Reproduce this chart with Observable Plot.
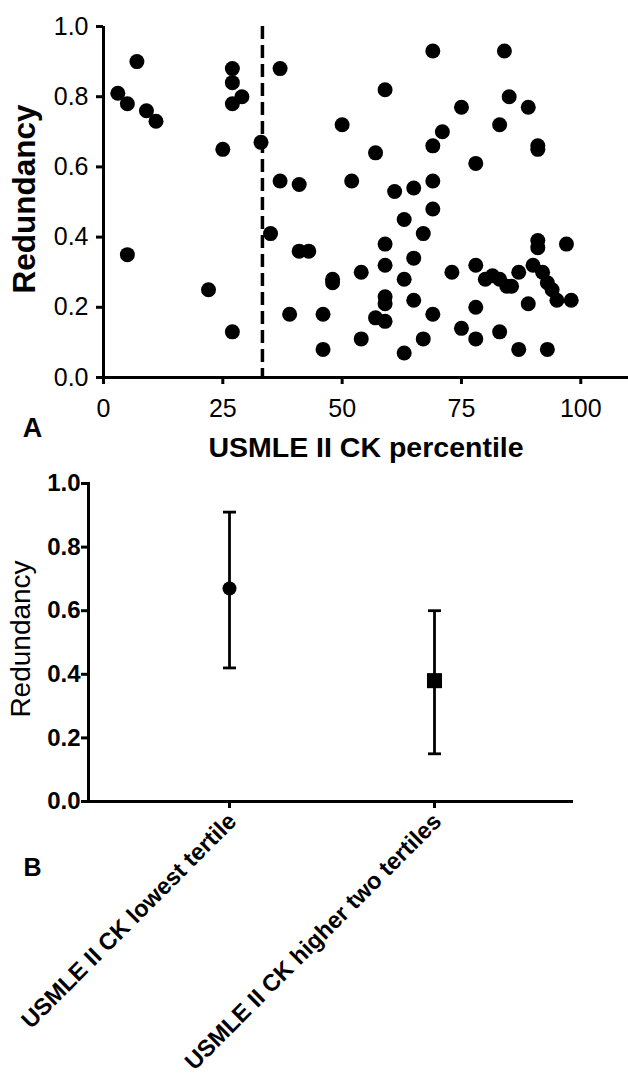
<!DOCTYPE html>
<html>
<head>
<meta charset="utf-8">
<script src="https://cdn.jsdelivr.net/npm/d3@7"></script>
<script src="https://cdn.jsdelivr.net/npm/@observablehq/plot@0.6"></script>
<style>
  body { margin: 0; background: #fff; }
  #chart svg { display: block; }
</style>
</head>
<body>
<div id="chart"></div>
<script>
// ---- Panel A data: USMLE II CK percentile vs redundancy ----
const percentile = [3,5,7,9,11, 5,22,25,27,27, 27,29,27,33,37, 37,41,35,41,43, 39,46,46,48,48, 50,52,54,54,
  69,84,59,85,75, 89,83,71,69,57, 91,91,78,69,61, 65,69,63,67,59, 91,91,97,65,59, 63,73,78,80,81.5,
  83,84.5,85.5,87,90, 92,93,94,95,98, 59,59,65,57,59, 69,78,89,67,75, 78,83,63,87,93];
const redundancy = [0.81,0.78,0.90,0.76,0.73, 0.35,0.25,0.65,0.88,0.84, 0.78,0.80,0.13,0.67,0.88, 0.56,0.55,0.41,0.36,0.36, 0.18,0.18,0.08,0.28,0.27, 0.72,0.56,0.30,0.11,
  0.93,0.93,0.82,0.80,0.77, 0.77,0.72,0.70,0.66,0.64, 0.66,0.65,0.61,0.56,0.53, 0.54,0.48,0.45,0.41,0.38, 0.39,0.37,0.38,0.34,0.32, 0.28,0.30,0.32,0.28,0.29,
  0.28,0.26,0.26,0.30,0.32, 0.30,0.27,0.25,0.22,0.22, 0.23,0.21,0.22,0.17,0.16, 0.18,0.20,0.21,0.11,0.14, 0.11,0.13,0.07,0.08,0.08];
const tertileCut = 33.3;
const xTicksA = [0, 25, 50, 75, 100];
const yTicks = [0, 0.2, 0.4, 0.6, 0.8, 1.0];
const xLabelA = "USMLE II CK percentile";
const yLabel = "Redundancy";

// ---- Panel B data: group means with error bars ----
const groups = ["USMLE II CK lowest tertile", "USMLE II CK higher two tertiles"];
const groupMean = [0.67, 0.38];
const groupLow = [0.42, 0.15];
const groupHigh = [0.91, 0.60];

const scatter = percentile.map((p, i) => ({p, r: redundancy[i]}));
const groupData = groups.map((g, i) => ({g, m: groupMean[i], lo: groupLow[i], hi: groupHigh[i]}));

const FONT = "Liberation Sans, Arial, sans-serif";
const fmt = d3.format(".1f");

const A = Plot.plot({
  width: 628, height: 470,
  marginLeft: 103, marginRight: 0, marginTop: 26, marginBottom: 93,
  style: {fontFamily: FONT, fontSize: "25px", color: "#000", background: "#fff", overflow: "visible"},
  x: {domain: [0, 110]},
  y: {domain: [0, 1]},
  marks: [
    Plot.ruleX([tertileCut], {stroke: "#000", strokeWidth: 3.5, strokeDasharray: "13,6"}),
    Plot.dot(scatter, {x: "p", y: "r", r: 7.5, fill: "#000", stroke: "none"}),
    Plot.ruleY([0], {stroke: "#000", strokeWidth: 3}),
    Plot.ruleX([0], {stroke: "#000", strokeWidth: 3}),
    Plot.axisX({ticks: xTicksA, tickSize: 7, tickPadding: 15, strokeWidth: 3, label: null, fontSize: 25}),
    Plot.axisY({ticks: yTicks, tickFormat: fmt, tickSize: 7, tickPadding: 8, strokeWidth: 3, label: null, fontSize: 25}),
    Plot.text([yLabel], {frameAnchor: "left", textAnchor: "middle", lineAnchor: "middle", rotate: -90, dx: -79, dy: -3, fontWeight: "bold", fontSize: 31.5}),
    Plot.text([xLabelA], {frameAnchor: "bottom", textAnchor: "middle", lineAnchor: "middle", dy: 70, fontWeight: "bold", fontSize: 28.5}),
    Plot.text(["A"], {frameAnchor: "bottom-left", textAnchor: "middle", lineAnchor: "middle", dx: -71, dy: 51, fontWeight: "bold", fontSize: 27})
  ]
});

const capSymbol = {
  draw(ctx, size) {
    const r = Math.sqrt(size / Math.PI);
    ctx.moveTo(-r, 0);
    ctx.lineTo(r, 0);
  }
};

const B = Plot.plot({
  width: 628, height: 614,
  marginLeft: 88, marginRight: 55, marginTop: 13, marginBottom: 283,
  style: {fontFamily: FONT, fontSize: "24px", color: "#000", background: "#fff", overflow: "visible"},
  x: {type: "point", domain: groups, padding: 0.68, align: 0.505},
  y: {domain: [0, 1]},
  marks: [
    Plot.ruleX(groupData, {x: "g", y1: "lo", y2: "hi", stroke: "#000", strokeWidth: 2.8}),
    Plot.dot(groupData, {x: "g", y: "hi", symbol: capSymbol, r: 6.5, fill: "none", stroke: "#000", strokeWidth: 2.8}),
    Plot.dot(groupData, {x: "g", y: "lo", symbol: capSymbol, r: 6.5, fill: "none", stroke: "#000", strokeWidth: 2.8}),
    Plot.dot(groupData, {filter: (d, i) => i === 0, x: "g", y: "m", symbol: "circle", r: 7, fill: "#000", stroke: "none"}),
    Plot.dot(groupData, {filter: (d, i) => i === 1, x: "g", y: "m", symbol: "square", r: 8.5, fill: "#000", stroke: "none"}),
    Plot.ruleY([0], {stroke: "#000", strokeWidth: 3}),
    Plot.frame({anchor: "left", stroke: "#000", strokeWidth: 3}),
    Plot.axisX({tickSize: 7, tickFormat: () => "", strokeWidth: 3, label: null}),
    Plot.axisY({ticks: yTicks, tickFormat: fmt, tickSize: 7, tickPadding: 1, strokeWidth: 3, label: null, fontSize: 24, fontWeight: "bold"}),
    Plot.text(groupData, {x: "g", text: "g", frameAnchor: "bottom", rotate: -45, textAnchor: "end", lineAnchor: "middle", dx: 3, dy: 16, fontWeight: "bold", fontSize: 23.5}),
    Plot.text([yLabel], {frameAnchor: "left", textAnchor: "middle", lineAnchor: "middle", rotate: -90, dx: -67, dy: -3.5, fontSize: 28}),
    Plot.text(["B"], {frameAnchor: "bottom-left", textAnchor: "middle", lineAnchor: "middle", dx: -56, dy: 66, fontWeight: "bold", fontSize: 25})
  ]
});

const chart = document.getElementById("chart");
chart.appendChild(A);
chart.appendChild(B);
</script>
</body>
</html>
